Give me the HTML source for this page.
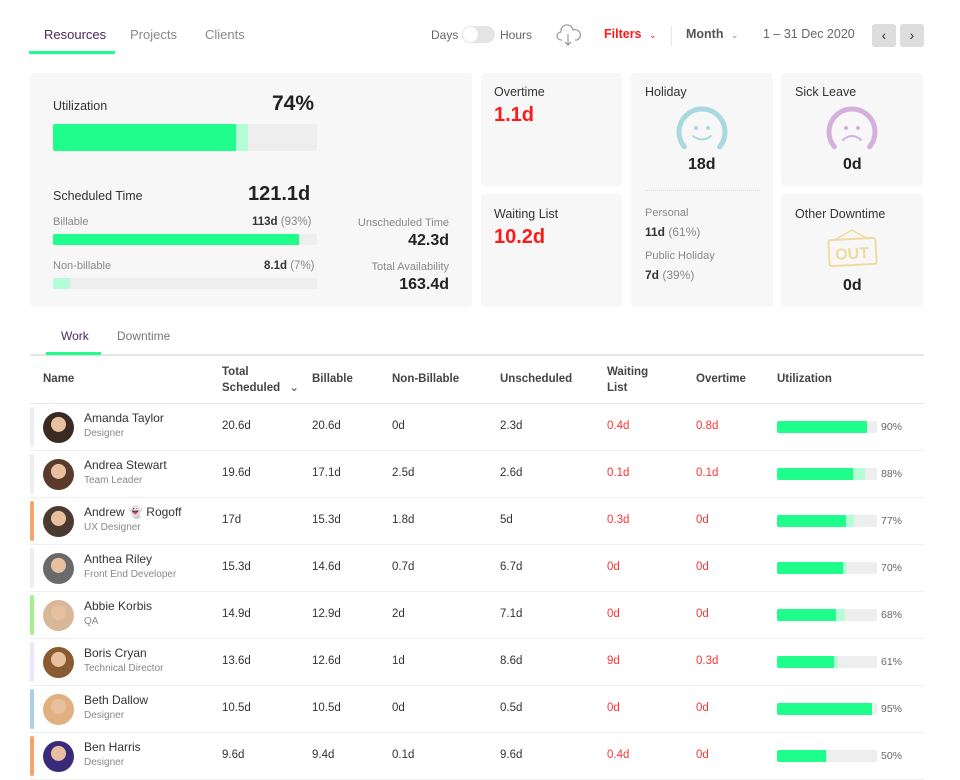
<!DOCTYPE html>
<html><head><meta charset="utf-8">
<style>
*{box-sizing:border-box;margin:0;padding:0}
body{width:960px;height:779px;overflow:hidden;background:#fff;font-family:"Liberation Sans",sans-serif;color:#333;position:relative}
.a{position:absolute;white-space:nowrap}
.card{position:absolute;background:#f7f7f7;border-radius:4px}
.lbl{font-size:12.5px;color:#333}
.big{font-weight:bold;color:#222}
.red{color:#ff1a1a}
.g{color:#888}
.track{position:absolute;background:#eee;border-radius:2px;overflow:hidden}
.fill{position:absolute;top:0;bottom:0;left:0;background:#1ffe8a}
.light{position:absolute;top:0;bottom:0;left:0;background:#b5fdd6}
.th{font-size:11.5px;font-weight:bold;color:#444}
</style></head><body>
<div class="a" style="left:44px;top:27px;font-size:13px;color:#4a2b5a">Resources</div>
<div class="a" style="left:29px;top:51px;width:86px;height:3px;background:#1ffe8a"></div>
<div class="a" style="left:130px;top:27px;font-size:13px;color:#888">Projects</div>
<div class="a" style="left:205px;top:27px;font-size:13px;color:#888">Clients</div>
<div class="a" style="left:431px;top:28px;font-size:12px;color:#666">Days</div>
<div class="a" style="left:462px;top:26px;width:33px;height:17px;border-radius:9px;background:#e4e4e4"><div style="position:absolute;left:1px;top:1px;width:15px;height:15px;border-radius:50%;background:#fff"></div></div>
<div class="a" style="left:500px;top:28px;font-size:12px;color:#666">Hours</div>
<svg class="a" style="left:556px;top:23px" width="26" height="24" viewBox="0 0 26 24"><path d="M6 17 H5 A4 4 0 0 1 5 9 A6 6 0 0 1 17 7 A4.5 4.5 0 0 1 21 17 H19" fill="none" stroke="#888" stroke-width="1"/><path d="M12 11 V22 M9 19 L12 22 L15 19" fill="none" stroke="#888" stroke-width="1"/></svg>
<div class="a" style="left:604px;top:27px;font-size:12.5px;font-weight:bold;color:#ff1a1a">Filters <span style="font-weight:normal;font-size:9px;margin-left:4px">&#8964;</span></div>
<div class="a" style="left:671px;top:26px;width:1px;height:20px;background:#e5e5e5"></div>
<div class="a" style="left:686px;top:27px;font-size:12.5px;font-weight:bold;color:#555">Month <span style="font-weight:normal;font-size:9px;margin-left:4px;color:#888">&#8964;</span></div>
<div class="a" style="left:763px;top:27px;font-size:12.5px;color:#666">1 – 31 Dec 2020</div>
<div class="a" style="left:872px;top:24px;width:24px;height:23px;background:#ddd;border-radius:3px;text-align:center;font-size:14px;line-height:22px;color:#333">&#8249;</div>
<div class="a" style="left:900px;top:24px;width:24px;height:23px;background:#ddd;border-radius:3px;text-align:center;font-size:14px;line-height:22px;color:#333">&#8250;</div>

<div class="card" style="left:30px;top:73px;width:442px;height:234px"></div>
<div class="a lbl" style="left:53px;top:99px">Utilization</div>
<div class="a big" style="left:272px;top:92px;font-size:21px">74%</div>
<div class="track" style="left:53px;top:124px;width:264px;height:27px"><div class="light" style="width:195px"></div><div class="fill" style="width:183px"></div></div>
<div class="a lbl" style="left:53px;top:189px">Scheduled Time</div>
<div class="a big" style="left:248px;top:183px;font-size:20px">121.1d</div>
<div class="a g" style="left:53px;top:216px;font-size:11px">Billable</div>
<div class="a" style="left:252px;top:216px;font-size:11.5px"><b>113d</b> <span class="g">(93%)</span></div>
<div class="track" style="left:53px;top:234px;width:264px;height:11px"><div class="fill" style="width:246px"></div></div>
<div class="a g" style="left:53px;top:260px;font-size:11px">Non-billable</div>
<div class="a" style="left:264px;top:260px;font-size:11.5px"><b>8.1d</b> <span class="g">(7%)</span></div>
<div class="track" style="left:53px;top:278px;width:264px;height:11px"><div class="light" style="width:17px"></div></div>
<div class="a g" style="right:511px;top:217px;font-size:11px">Unscheduled Time</div>
<div class="a big" style="right:511px;top:232px;font-size:16px">42.3d</div>
<div class="a g" style="right:511px;top:261px;font-size:11px">Total Availability</div>
<div class="a big" style="right:511px;top:276px;font-size:16px">163.4d</div>

<div class="card" style="left:481px;top:73px;width:141px;height:113px"></div>
<div class="a lbl" style="left:494px;top:85px">Overtime</div>
<div class="a big red" style="left:494px;top:104px;font-size:20px;color:#ff1a1a">1.1d</div>
<div class="card" style="left:481px;top:194px;width:141px;height:113px"></div>
<div class="a lbl" style="left:494px;top:207px">Waiting List</div>
<div class="a big red" style="left:494px;top:226px;font-size:20px;color:#ff1a1a">10.2d</div>

<div class="card" style="left:631px;top:73px;width:142px;height:234px"></div>
<div class="a lbl" style="left:645px;top:85px">Holiday</div>
<svg class="a" style="left:676px;top:106px" width="52" height="44" viewBox="0 0 52 44"><path d="M8.4 40.8 A23 23 0 1 1 43.6 40.8" fill="none" stroke="#a8d8e0" stroke-width="5" stroke-linecap="round"/><circle cx="20" cy="22" r="2" fill="#a8d8e0"/><circle cx="32" cy="22" r="2" fill="#a8d8e0"/><path d="M17 30 Q26 37 35 30" fill="none" stroke="#a8d8e0" stroke-width="2" stroke-linecap="round"/></svg>
<div class="a big" style="left:688px;top:156px;font-size:16px">18d</div>
<div class="a" style="left:645px;top:190px;width:115px;border-top:1px dotted #ddd"></div>
<div class="a g" style="left:645px;top:207px;font-size:11px">Personal</div>
<div class="a" style="left:645px;top:225px;font-size:12px"><b>11d</b> <span class="g">(61%)</span></div>
<div class="a g" style="left:645px;top:250px;font-size:11px">Public Holiday</div>
<div class="a" style="left:645px;top:268px;font-size:12px"><b>7d</b> <span class="g">(39%)</span></div>

<div class="card" style="left:781px;top:73px;width:142px;height:113px"></div>
<div class="a lbl" style="left:795px;top:85px">Sick Leave</div>
<svg class="a" style="left:826px;top:106px" width="52" height="44" viewBox="0 0 52 44"><path d="M8.4 40.8 A23 23 0 1 1 43.6 40.8" fill="none" stroke="#d4b0dc" stroke-width="5" stroke-linecap="round"/><circle cx="20" cy="22" r="2" fill="#d4b0dc"/><circle cx="32" cy="22" r="2" fill="#d4b0dc"/><path d="M17 34 Q26 26 35 34" fill="none" stroke="#d4b0dc" stroke-width="2" stroke-linecap="round"/></svg>
<div class="a big" style="left:843px;top:156px;font-size:16px">0d</div>
<div class="card" style="left:781px;top:194px;width:142px;height:113px"></div>
<div class="a lbl" style="left:795px;top:207px">Other Downtime</div>
<svg class="a" style="left:826px;top:228px" width="52" height="40" viewBox="0 0 52 40"><path d="M10 11 L26 2 L42 11" fill="none" stroke="#eddba0" stroke-width="1.5"/><rect x="3" y="11" width="47" height="26" rx="2" fill="none" stroke="#eddba0" stroke-width="2" transform="rotate(-3 26 24)"/><text x="26" y="31" text-anchor="middle" font-family="Liberation Sans" font-weight="bold" font-size="16" fill="#eddba0" transform="rotate(-3 26 24)">OUT</text></svg>
<div class="a big" style="left:843px;top:277px;font-size:16px">0d</div>

<div class="a" style="left:61px;top:329px;font-size:12px;color:#4a2b5a">Work</div>
<div class="a" style="left:117px;top:329px;font-size:12px;color:#777">Downtime</div>
<div class="a" style="left:30px;top:354px;width:894px;height:2px;background:#e6e6e6"></div>
<div class="a" style="left:46px;top:352px;width:55px;height:3px;background:#1ffe8a"></div>

<div class="a th" style="left:43px;top:373px">Name</div>
<div class="a th" style="left:222px;top:364px;line-height:16px">Total<br>Scheduled <span style="font-weight:normal;margin-left:6px">&#8964;</span></div>
<div class="a th" style="left:312px;top:373px">Billable</div>
<div class="a th" style="left:392px;top:373px">Non-Billable</div>
<div class="a th" style="left:500px;top:373px">Unscheduled</div>
<div class="a th" style="left:607px;top:364px;line-height:16px">Waiting<br>List</div>
<div class="a th" style="left:696px;top:373px">Overtime</div>
<div class="a th" style="left:777px;top:373px">Utilization</div>
<div class="a" style="left:30px;top:403px;width:894px;height:1px;background:#e6e6e6"></div>

<div id="rows"></div>
<script>
const names=["Amanda Taylor","Andrea Stewart","Andrew 👻 Rogoff","Anthea Riley","Abbie Korbis","Boris Cryan","Beth Dallow","Ben Harris"];
const roles=["Designer","Team Leader","UX Designer","Front End Developer","QA","Technical Director","Designer","Designer"];
const markerColors=["#eeeef2","#eeeef2","#f7a46a","#eeeef2","#a4f08c","#efe4fb","#a9cfe4","#f7a46a"];
const avatarColors=["#3a2a22","#5a3a2a","#4a3a30","#6a6a6a","#d8b898","#8a5a30","#e0b080","#3a2a7a"];
const totalScheduled=["20.6d","19.6d","17d","15.3d","14.9d","13.6d","10.5d","9.6d"];
const billable=["20.6d","17.1d","15.3d","14.6d","12.9d","12.6d","10.5d","9.4d"];
const nonBillable=["0d","2.5d","1.8d","0.7d","2d","1d","0d","0.1d"];
const unscheduled=["2.3d","2.6d","5d","6.7d","7.1d","8.6d","0.5d","9.6d"];
const waitingList=["0.4d","0.1d","0.3d","0d","0d","9d","0d","0.4d"];
const overtime=["0.8d","0.1d","0d","0d","0d","0.3d","0d","0d"];
const billablePct=[90,76,69,66,59,57,95,49];
const utilPct=[90,88,77,70,68,61,95,50];

const rowsEl=document.getElementById('rows');
const rowTop=404, rowH=47, barX=777, barW=100;
const xScale=p=>p/100*barW;
function mk(html,style){const d=document.createElement('div');d.className='a';d.style.cssText=style;d.innerHTML=html;rowsEl.appendChild(d);return d;}
names.forEach((n,i)=>{
  const y=rowTop+i*rowH;
  let el;
  el=mk('','left:30px;top:'+(y+3)+'px;width:4px;height:40px;border-radius:2px;background:'+markerColors[i]);
  
  
  el=mk('','left:43px;top:'+(y+8)+'px;width:31px;height:31px;border-radius:50%;background:radial-gradient(circle at 50% 40%,#e8c0a0 0 30%,'+avatarColors[i]+' 32%)');
  
  
  el=mk(n,'left:84px;top:'+(y+7)+'px;font-size:12px;color:#333');
  
  
  el=mk(roles[i],'left:84px;top:'+(y+24)+'px;font-size:10px;color:#888');
  
  
  const cols=[[222,totalScheduled[i],'#333'],[312,billable[i],'#333'],[392,nonBillable[i],'#333'],[500,unscheduled[i],'#333'],[607,waitingList[i],'#ff3333'],[696,overtime[i],'#ff3333']];
  const cn=['total-scheduled-cell','billable-cell','non-billable-cell','unscheduled-cell','waiting-list-cell','overtime-cell'];
  cols.forEach((c,k)=>{
    el=mk(c[1],'left:'+c[0]+'px;top:'+(y+16)+'px;font-size:11.5px;color:'+c[2]);
    
    
  });
  el=mk('<div class="light" style="width:'+xScale(utilPct[i])+'px"></div><div class="fill" style="width:'+xScale(billablePct[i])+'px"></div>','left:'+barX+'px;top:'+(y+17)+'px;width:'+barW+'px;height:12px;background:#eee;border-radius:2px;overflow:hidden');
  
  
  el=mk(utilPct[i]+'%','left:881px;top:'+(y+17)+'px;font-size:10.5px;color:#666');
  
  
  el=mk('','left:30px;top:'+(y+rowH-1)+'px;width:894px;height:1px;background:#efefef');
  
  
});
</script>
</body></html>
